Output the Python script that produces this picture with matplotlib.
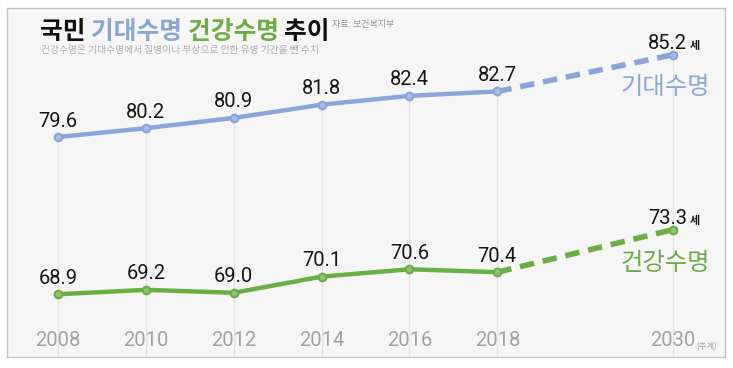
import matplotlib
matplotlib.use("Agg")
import matplotlib.pyplot as plt

plt.rcParams['font.family'] = ['Liberation Sans', 'Noto Sans CJK KR', 'DejaVu Sans']

years = ['2008', '2010', '2012', '2014', '2016', '2018', '2030']
xpos = [0, 1, 2, 3, 4, 5, 7]
life_exp = [79.6, 80.2, 80.9, 81.8, 82.4, 82.7, 85.2]
healthy_exp = [68.9, 69.2, 69.0, 70.1, 70.6, 70.4, 73.3]
series_names = ['기대수명', '건강수명']
title_parts = [('국민 ', '#111111'), ('기대수명 ', '#8aa5d8'), ('건강수명 ', '#6aae45'), ('추이', '#111111')]
source_text = '자료: 보건복지부'
subtitle = '건강수명은 기대수명에서 질병이나 부상으로 인한 유병 기간을 뺀 수치'
proj_note = '(추계)'
unit = '세'

BLUE = '#8aa6d8'
GREEN = '#6aae45'
KR = ['Noto Sans CJK KR', 'DejaVu Sans']
NUM = ['Roboto', 'Liberation Sans', 'DejaVu Sans']

W, H = 733, 368
fig = plt.figure(figsize=(W / 100, H / 100), dpi=100)
fig.patch.set_facecolor('white')

L, R, T, B = 7, 725, 8, 357
ax = fig.add_axes([L / W, 1 - B / H, (R - L) / W, (B - T) / H])
ax.set_facecolor('#f6f6f6')
for s in ax.spines.values():
    s.set_color('#c4c4c4')
    s.set_linewidth(1.0)
ax.set_xticks([])
ax.set_yticks([])

ax.set_xlim(-0.581, 7.592)
ax.set_ylim(64.63, 88.38)

# vertical guide lines from upper point down
for x, v in zip(xpos, life_exp):
    ax.plot([x, x], [64.63, v], color='#e2e2e2', lw=0.9, zorder=1)

def draw_series(vals, color):
    ax.plot(xpos[:6], vals[:6], color=color, lw=3.2, solid_capstyle='round', zorder=3)
    ax.plot(xpos[5:], vals[5:], color=color, lw=4.0, dashes=(2.6, 1.6), zorder=3)
    ax.plot(xpos, vals, 'o', ms=6, color=color, mec=color, mfc=color, zorder=4)
    ax.plot(xpos, vals, 'o', ms=4, color='white', alpha=0.25, mec='none', zorder=5)

draw_series(life_exp, BLUE)
draw_series(healthy_exp, GREEN)

# value labels
for vals in (life_exp, healthy_exp):
    for x, v in zip(xpos[:6], vals[:6]):
        ax.annotate(f'{v:.1f}', (x, v), xytext=(0, 11.5), textcoords='offset points',
                    ha='center', va='center', fontsize=14.5, color='#161616',
                    family=NUM)
for v in (life_exp[6], healthy_exp[6]):
    ax.annotate(f'{v:.1f}', (xpos[6], v), xytext=(-4, 8), textcoords='offset points',
                ha='center', va='center', fontsize=14.5, color='#161616',
                family=NUM)
    ax.annotate(unit, (xpos[6], v), xytext=(12, 2), textcoords='offset points',
                ha='left', va='bottom', fontsize=8, color='#161616', family=KR,
                fontweight='bold')

# series names
ax.annotate(series_names[0], (xpos[6], life_exp[6]), xytext=(-38, -23.5), textcoords='offset points',
            ha='left', va='center', fontsize=17.5, color=BLUE, family=KR, fontweight='light')
ax.annotate(series_names[1], (xpos[6], healthy_exp[6]), xytext=(-38, -24), textcoords='offset points',
            ha='left', va='center', fontsize=17.5, color=GREEN, family=KR, fontweight='light')

# x labels
for x, lab in zip(xpos, years):
    ax.text(x, 16 / (B - T), lab, transform=ax.get_xaxis_transform(), ha='center', va='center',
            fontsize=14.5, color='#a2a2a2', family=NUM)
ax.text(xpos[6] + 0.26, 10 / (B - T), proj_note, transform=ax.get_xaxis_transform(), ha='left', va='center',
        fontsize=6, color='#a4a4a4', family=KR)

# title
fig.canvas.draw()
renderer = fig.canvas.get_renderer()
x0 = 40 / W
ty = 1 - 32 / H
for txt, c in title_parts:
    t = fig.text(x0, ty, txt, fontsize=17.8, fontweight='heavy', color=c, family=KR, va='center', ha='left')
    bb = t.get_window_extent(renderer)
    x0 = bb.x1 / W
fig.text(x0 + 2 / W, 1 - 25 / H, source_text, fontsize=6.5, color='#999999', family=KR, va='center', ha='left')
fig.text(41 / W, 1 - 50 / H, subtitle, fontsize=7.0, color='#b0b0b0', family=KR, va='center', ha='left')

fig.savefig('out.png', dpi=100, facecolor='white')
